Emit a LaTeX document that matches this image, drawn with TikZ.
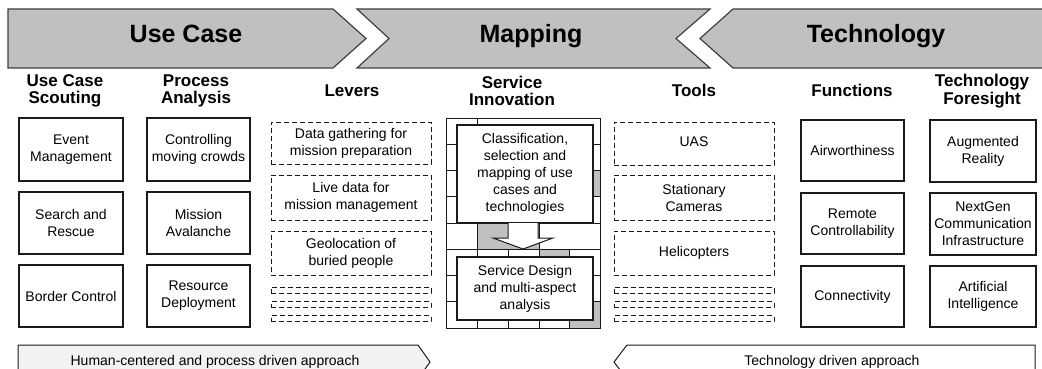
\documentclass[tikz,border=0pt]{standalone}
\usepackage{fontspec}
\setmainfont{Liberation Sans}
\definecolor{bandfill}{HTML}{C0C0C0}
\definecolor{bandline}{HTML}{404040}
\definecolor{wallgray}{HTML}{C0C0C0}
\definecolor{pathfill}{HTML}{F2F2F2}
\definecolor{ink}{HTML}{1A1A1A}
\begin{document}
\begin{tikzpicture}[x=1pt,y=-1pt,
  band/.style={draw=bandline, fill=bandfill, line width=1.2pt, line join=miter},
  bandtext/.style={font=\fontsize{25}{28}\selectfont\bfseries, anchor=base, inner sep=0},
  colhead/.style={font=\fontsize{17}{17.5}\selectfont\bfseries, align=center, inner sep=0},
  boxtext/.style={font=\fontsize{14}{17}\selectfont, align=center, inner sep=0, text=black},
  solidbox/.style={boxtext, draw=ink, line width=1.1pt},
  dashbox/.style={boxtext, draw=ink, line width=1pt, dash pattern=on 5pt off 3pt},
  strip/.style={draw=ink, line width=1pt, dash pattern=on 5pt off 3pt},
  approach/.style={draw=ink, line width=1pt, line join=miter},
  wallline/.style={draw=ink, line width=1pt},
  apptext/.style={font=\fontsize{14}{17}\selectfont, anchor=base, inner sep=0},
]
\path[clip] (0,0) rectangle (1042,369);
\fill[white] (0,0) rectangle (1042,369);

% --- phase banner ---
\draw[band] (8,9) -- (333,9) -- (366,38.5) -- (333,68) -- (8,68) -- cycle;
\draw[band] (357,9) -- (710,9) -- (676,38.5) -- (710,68) -- (357,68) -- (389,38.5) -- cycle;
\draw[band] (700,38.5) -- (733,9) -- (1050,9) -- (1050,68) -- (733,68) -- cycle;
\node[bandtext] (ucT) at (186,43) {Use Case};
\node[bandtext] (mapT) at (531,43) {Mapping};
\node[bandtext] (techT) at (876,43) {Technology};

% --- column headings ---
\node[colhead] (h1) at (65,91) {Use Case\\Scouting};
\node[colhead] (h2) at (196,91) {Process\\Analysis};
\node[colhead] (h3) at (352,90.5) {Levers};
\node[colhead] (h4) at (512,91) {Service\\Innovation};
\node[colhead] (h5) at (694,90.5) {Tools};
\node[colhead] (h6) at (852,90.5) {Functions};
\node[colhead] (h7) at (982,91) {Technology\\Foresight};

% --- use case scouting ---
\node[solidbox, minimum width=104, minimum height=63] (ev) at (71,149.5) {Event\\Management};
\node[solidbox, minimum width=104, minimum height=62] (sr) at (71,223) {Search and\\Rescue};
\node[solidbox, minimum width=104, minimum height=62] (bc) at (71,296) {Border Control};

% --- process analysis ---
\node[solidbox, minimum width=103, minimum height=63] (cm) at (198.5,149.5) {Controlling\\moving crowds};
\node[solidbox, minimum width=103, minimum height=62] (ma) at (198.5,223) {Mission\\Avalanche};
\node[solidbox, minimum width=103, minimum height=62] (rd) at (198.5,296) {Resource\\Deployment};

% --- levers ---
\node[dashbox, minimum width=160, minimum height=42] (lv1) at (351,143) {Data gathering for\\mission preparation};
\node[dashbox, minimum width=160, minimum height=45] (lv2) at (351,197.5) {Live data for\\mission management};
\node[dashbox, minimum width=160, minimum height=44] (lv3) at (351,253) {Geolocation of\\buried people};
\node[strip, minimum width=160, minimum height=6, inner sep=0] (lv4) at (351,290) {};
\node[strip, minimum width=160, minimum height=6, inner sep=0] (lv5) at (351,304.5) {};
\node[strip, minimum width=160, minimum height=6, inner sep=0] (lv6) at (351,318.5) {};

% --- service innovation wall ---
\fill[wallgray] (569,170.5) rectangle (600,196.75);
\fill[wallgray] (477,223) rectangle (539,249.25);
\fill[wallgray] (539,249.25) rectangle (569,275.5);
\fill[wallgray] (569,301.75) rectangle (600,328);
\draw[wallline] (446,118) rectangle (600,328);
\foreach \y in {144.25,170.5,196.75,223,249.25,275.5,301.75}
  \draw[wallline] (446,\y) -- (600,\y);
\draw[wallline] (477,118) -- (477,144.25);
\foreach \x in {477,539} \draw[wallline] (\x,223) -- (\x,249.25);
\foreach \x in {477,508,539,569} \draw[wallline] (\x,249.25) -- (\x,275.5);
\foreach \x in {477,508,539,569} \draw[wallline] (\x,301.75) -- (\x,328);
\node[solidbox, fill=white, minimum width=136, minimum height=98] (cls) at (525,174)
  {Classification,\\selection and\\mapping of use\\cases and\\technologies};
\node[solidbox, fill=white, minimum width=136, minimum height=63] (sd) at (525,288.5)
  {Service Design\\and multi-aspect\\analysis};
\draw[wallline, fill=white, line join=miter]
  (508,223) -- (508,238) -- (493,238) -- (523,249) -- (553,238) -- (538,238) -- (538,223);

% --- tools ---
\node[dashbox, minimum width=160, minimum height=43] (uas) at (694,143.5) {\raisebox{4pt}{UAS}};
\node[dashbox, minimum width=160, minimum height=45] (cam) at (694,197.5) {Stationary\\Cameras};
\node[dashbox, minimum width=160, minimum height=44] (hel) at (694,253) {Helicopters};
\node[strip, minimum width=160, minimum height=6, inner sep=0] (tl4) at (694,290) {};
\node[strip, minimum width=160, minimum height=6, inner sep=0] (tl5) at (694,304.5) {};
\node[strip, minimum width=160, minimum height=6, inner sep=0] (tl6) at (694,318.5) {};

% --- functions ---
\node[solidbox, minimum width=103, minimum height=61] (aw) at (852.5,150.5) {Airworthiness};
\node[solidbox, minimum width=103, minimum height=61] (rc) at (852.5,223.5) {Remote\\Controllability};
\node[solidbox, minimum width=103, minimum height=61] (cn) at (852.5,296.5) {Connectivity};

% --- technology foresight ---
\node[solidbox, minimum width=106, minimum height=62] (ar) at (983,151) {Augmented\\Reality};
\node[solidbox, minimum width=106, minimum height=62] (ng) at (983,224) {NextGen\\Communication\\Infrastructure};
\node[solidbox, minimum width=106, minimum height=61] (ai) at (983,296.5) {Artificial\\Intelligence};

% --- approach arrows ---
\draw[approach, fill=pathfill] (18,345) -- (418,345) -- (430,362) -- (418,379) -- (18,379) -- cycle;
\draw[approach, fill=white] (614,362) -- (627,345) -- (1035,345) -- (1035,379) -- (627,379) -- cycle;
\node[apptext] (hum) at (215,365) {Human-centered and process driven approach};
\node[apptext] (tda) at (832,365) {Technology driven approach};
\end{tikzpicture}
\end{document}
